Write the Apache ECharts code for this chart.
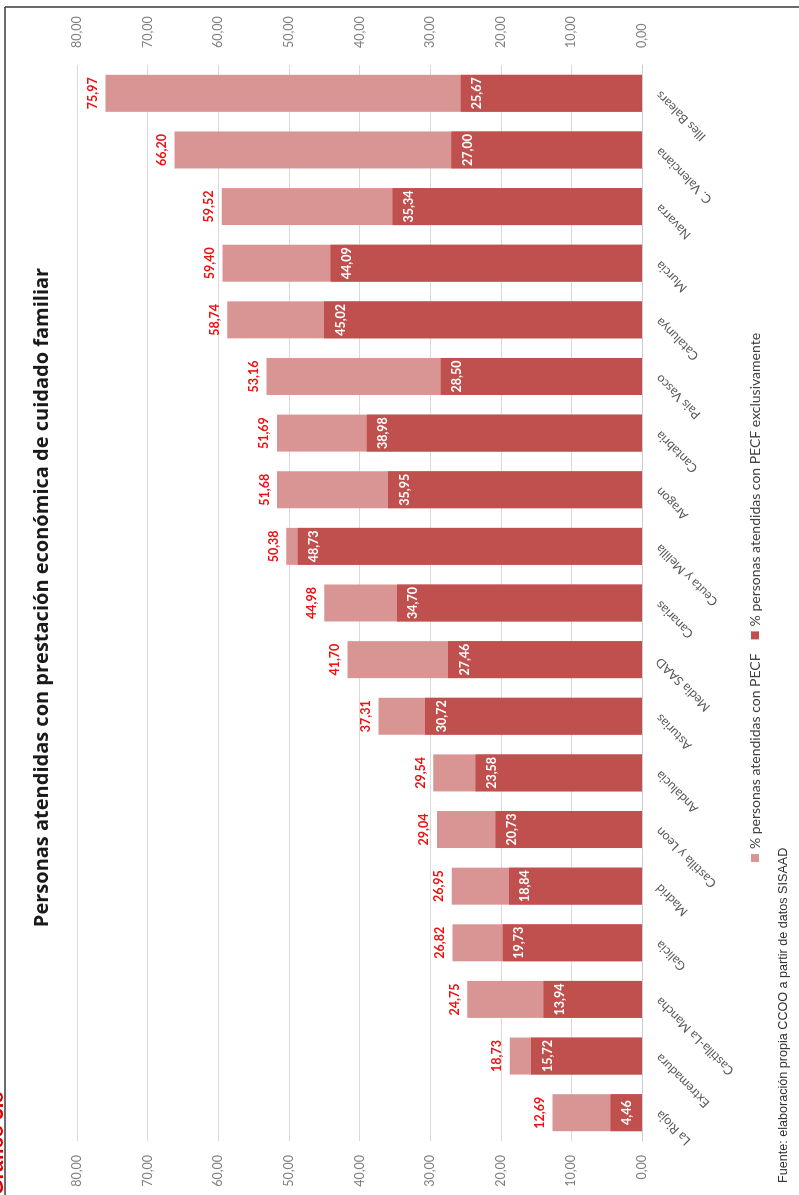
<!DOCTYPE html>
<html>
<head>
<meta charset="utf-8">
<script src="https://cdn.jsdelivr.net/npm/echarts@6/dist/echarts.min.js"></script>
<style>
  html, body { margin:0; padding:0; background:#fff; width:799px; height:1195px; overflow:hidden; }
  #wrap { position:absolute; left:0; top:0; width:1195px; height:799px;
          transform-origin:0 0; transform:translate(0px,1195px) rotate(-90deg); }
</style>
</head>
<body>
<div id="wrap"></div>
<script>
const titleText = 'Personas atendidas con prestación económica de cuidado familiar';
const sourceText = 'Fuente: elaboración propia CCOO a partir de datos SISAAD';
const chartTag = 'Gráfico 3.8';
const seriesNames = ['% personas atendidas con PECF', '% personas atendidas con PECF exclusivamente'];
const categories = ['La Rioja','Extremadura','Castilla-La Mancha','Galicia','Madrid','Castilla y Leon','Andalucia','Asturias','Media SAAD','Canarias','Ceuta y Melilla','Aragon','Cantabria','Pais Vasco','Catalunya','Murcia','Navarra','C. Valenciana','Illes Balears'];
const pecfTotal = [12.69,18.73,24.75,26.82,26.95,29.04,29.54,37.31,41.70,44.98,50.38,51.68,51.69,53.16,58.74,59.40,59.52,66.20,75.97];
const pecfExclusive = [4.46,15.72,13.94,19.73,18.84,20.73,23.58,30.72,27.46,34.70,48.73,35.95,38.98,28.50,45.02,44.09,35.34,27.00,25.67];

const fmt = v => Number(v).toFixed(2).replace('.', ',');
const chart = echarts.init(document.getElementById('wrap'), null, {width:1195, height:799});
const valueAxisBase = {
  type:'value', min:0, max:80, interval:10,
  axisLine:{show:false}, axisTick:{show:false},
  axisLabel:{color:'#7f7f7f', fontSize:12.5, fontFamily:'Lato', formatter: fmt}
};
chart.setOption({
  animation:false,
  title:{text:titleText, left:'center', top:27,
    textStyle:{fontSize:20, fontWeight:'bold', color:'#1a1a1a', fontFamily:'Open Sans'}},
  legend:{data:seriesNames, left:'center', top:743, icon:'rect', itemWidth:8, itemHeight:8, itemGap:14,
    textStyle:{fontSize:14, color:'#404040', fontFamily:'Lato'}},
  grid:{left:54, right:65, top:77, bottom:157},
  xAxis:{type:'category', data:categories,
    axisLine:{lineStyle:{color:'#c6ced8'}}, axisTick:{show:false},
    axisLabel:{rotate:45, margin:16, color:'#595959', fontSize:12.5, fontFamily:'Lato', interval:0}},
  yAxis:[
    Object.assign({}, valueAxisBase, {position:'left', axisLabel:Object.assign({}, valueAxisBase.axisLabel, {margin:14}),
      splitLine:{lineStyle:{color:'#d9d9d9'}}}),
    Object.assign({}, valueAxisBase, {position:'right', axisLabel:Object.assign({}, valueAxisBase.axisLabel, {margin:17}),
      splitLine:{show:false}})
  ],
  series:[
    {name:seriesNames[0], type:'bar', data:pecfTotal, barWidth:37, barGap:'-100%',
      itemStyle:{color:'#d99594'},
      label:{show:true, position:'top', distance:6, color:'#ee1111', fontWeight:'bold', fontSize:12.5, fontFamily:'Lato',
        formatter:p => fmt(p.value)}},
    {name:seriesNames[1], type:'bar', data:pecfExclusive, barWidth:37, barGap:'-100%',
      itemStyle:{color:'#c0504d'},
      label:{show:true, position:'insideTop', distance:10, color:'#ffffff', fontWeight:'bold', fontSize:12.5, fontFamily:'Lato',
        formatter:p => fmt(p.value)}}
  ],
  graphic:[
    {type:'line', shape:{x1:0, y1:5, x2:1188, y2:5}, style:{stroke:'#3a3a3a', lineWidth:1.5}, silent:true},
    {type:'line', shape:{x1:1188, y1:5, x2:1188, y2:799}, style:{stroke:'#3a3a3a', lineWidth:1.5}, silent:true},
    {type:'text', left:12, top:777, style:{text:sourceText, font:'12.6px "Liberation Sans"', fill:'#333333'}},
    {type:'text', x:0, y:7, style:{text:chartTag, font:'bold 20px "Liberation Sans"', fill:'#e00000', textVerticalAlign:'bottom'}}
  ]
});
</script>
</body>
</html>
